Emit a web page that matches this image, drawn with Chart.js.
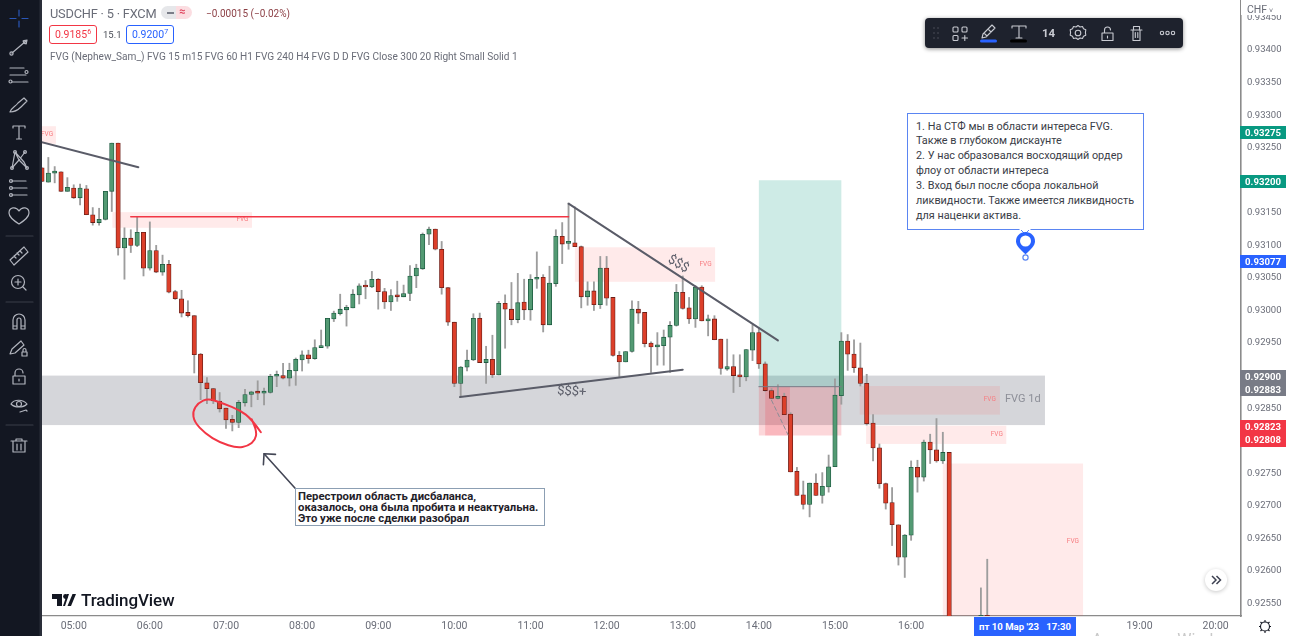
<!DOCTYPE html>
<html>
<head>
<meta charset="utf-8">
<title>USDCHF 5</title>
<script src="https://cdn.jsdelivr.net/npm/chart.js@4"></script>
<style>
  html, body { margin: 0; padding: 0; background: #fff; overflow: hidden; }
  #app { position: relative; width: 1290px; height: 636px; overflow: hidden; font-family: Roboto, sans-serif; }
  #app > * { position: absolute; }
  #chart { left: 0; top: 0; }
  #sidebar { left: 0; top: 0; }
  .legend { color: #6a6d78; white-space: nowrap; }
  .quote { top: 25px; width: 46px; height: 17px; border: 1px solid; border-radius: 3px; background: #fff; font-size: 10.5px; line-height: 17px; text-align: center; }
  .quote sup { font-size: 7px; line-height: 0; }
  .tag { left: 1240px; width: 46px; color: #fff; font-weight: 700; font-size: 9.6px; text-align: center; line-height: 13px; }
  .note { background: #fff; box-sizing: border-box; color: #3a3d47; white-space: nowrap; }
</style>
</head>
<body>
<div id="app">
  <canvas id="chart" width="1290" height="636"></canvas>

  <svg id="sidebar" width="42" height="636" fill="none" stroke="#b2b5be" stroke-width="1.2" stroke-linecap="round" stroke-linejoin="round">
    <rect width="42" height="636" fill="#131722" stroke="none"/>
    <rect x="39.5" width="2.5" height="636" fill="#2a2e39" stroke="none"/>
    <path d="M19 10v6M19 21v6M10 18.5h6M22 18.5h6" stroke="#2a56b8"/>
    <path d="M12 53L26 41M23 41l4-1-1 4"/><circle cx="11.5" cy="53.5" r="1.6"/><circle cx="25" cy="42" r="1.6"/>
    <path d="M10 68h14M10 75h16M12 82h16"/><circle cx="26.5" cy="72" r="1.5"/><circle cx="10.5" cy="81.5" r="1.5"/>
    <path d="M10 112c2-5 5-5 8-9l6-5 3 3-6 6c-3 3-6 5-11 5z"/>
    <path d="M13 126h12v2M13 126v2M19 126v13M16.500 139h5"/>
    <path d="M12 168l3-16 9 10 3 6M15 152l4 8 6-8M12 168l7-8 8 8"/><circle cx="15" cy="152" r="1.4"/><circle cx="25" cy="152" r="1.4"/><circle cx="12" cy="168" r="1.4"/><circle cx="27" cy="168" r="1.4"/>
    <path d="M11 181h15M11 188h16M11 195h16"/><circle cx="11" cy="181" r="1.5"/><circle cx="11" cy="188" r="1.5"/><circle cx="11" cy="195" r="1.5"/>
    <path d="M19 224c-6-4-10-7-10-11 0-6 7-7 10-2 3-5 10-4 10 2 0 4-4 7-10 11z"/>
    <path d="M6 236h27M6 302h27M6 425h27" stroke="#3a3e49"/>
    <path d="M10 260l14-13 4 5-14 13zM14 256l2 2M17 253l2 2M20 251l2 2"/>
    <circle cx="18" cy="282" r="6.500"/><path d="M23 287l3 3M15 282h6M18 279v6"/>
    <path d="M13 329v-9a6 6 0 0 1 12 0v9h-4v-9a2 2 0 0 0-4 0v9zM13 326h4M21 326h4"/>
    <path d="M10 354l2-5 9-8 3 4-9 8zM22 352h5v4h-5zM23 352v-2a1.500 1.500 0 0 1 3 0v2"/>
    <path d="M13 376h12v8H13zM15 376v-3a4 4 0 0 1 8 0M19 379v2"/>
    <path d="M11 404c3-5 12-5 16 0-4 4-12 4-16 0z"/><circle cx="19" cy="404" r="2.500"/><path d="M20 412l6-2 1 1"/>
    <path d="M13 441h12v11H13zM11 441h16M16 441v-2h6v2M17 444v6M21 444v6"/>
  </svg>

  <div class="legend" style="left:50px;top:5px;font-size:12.8px;line-height:17px;letter-spacing:-.2px">USDCHF · 5 · FXCM</div>
  <div style="left:161px;top:6px;width:31px;height:13px;border-radius:7px;background:linear-gradient(90deg,#e6e7ea 50%,#fbdde1 50%)"></div>
  <div style="left:167px;top:11.500px;width:7px;height:2px;background:#7a7d88"></div>
  <div style="left:179px;top:4px;color:#e0455f;font-size:11px;line-height:15px;font-weight:700">≈</div>
  <div style="left:206px;top:7px;color:#8c3f45;font-size:10px;line-height:14px;white-space:nowrap">−0.00015 (−0.02%)</div>
  <div class="quote" style="left:49px;color:#f23645;border-color:#f23645">0.9185<sup>6</sup></div>
  <div style="left:103px;top:29px;font-size:9.5px;line-height:12px;color:#4a4d57">15.1</div>
  <div class="quote" style="left:126px;color:#2962ff;border-color:#2962ff">0.9200<sup>7</sup></div>
  <div class="legend" style="left:50px;top:50px;font-size:10.1px;line-height:14px">FVG (Nephew_Sam_) FVG 15 m15 FVG 60 H1 FVG 240 H4 FVG D D FVG Close 300 20 Right Small Solid 1</div>

  <div style="left:925px;top:18px;width:258px;height:30px;border-radius:4px;background:#1e222d;box-shadow:0 1px 4px rgba(0,0,0,.45)"></div>
  <svg style="left:925px;top:18px" width="258" height="30" fill="none" stroke="#c9cbd2" stroke-width="1.1" stroke-linecap="round" stroke-linejoin="round">
    <path d="M9 10h.01M13 10h.01M9 15h.01M13 15h.01M9 20h.01M13 20h.01" stroke="#50535e" stroke-width="1.6"/>
    <rect x="28" y="9" width="5" height="5" rx="1"/><rect x="37" y="9" width="5" height="5" rx="1"/><rect x="28" y="17.500" width="5" height="5" rx="1"/><path d="M37 20h5.500M39.800 17.500v5"/>
    <path d="M57 20l1-4 9-9 3 3-9 9zM59 15l3 3M63 11l3 3"/><rect x="55" y="21.500" width="17" height="3" rx="1.500" fill="#2962ff" stroke="none"/>
    <path d="M87 8h14v2M87 8v2M94 8v12M91 20h6"/><rect x="85" y="21.500" width="17" height="3" rx="1.500" fill="#000" stroke="none"/>
    <circle cx="153" cy="15" r="2.800"/><path d="M153 7.500l2 1.500 2.500-.5 1 2.300 2.300 1-.4 2.700.4 2.700-2.300 1-1 2.300-2.500-.5-2 1.500-2-1.500-2.500.5-1-2.300-2.300-1 .4-2.700-.4-2.700 2.300-1 1-2.300 2.500.5z"/>
    <path d="M177 15h11v7.500h-11zM179.500 15v-3a3 3 0 0 1 6 0M182.500 18v2"/>
    <path d="M206 12h11M208 12v10.500h7V12M208.500 12V8.500h6V12M210.300 14.500v5M212.800 14.500v5"/>
    <circle cx="237" cy="15" r="1.700"/><circle cx="242.500" cy="15" r="1.700"/><circle cx="248" cy="15" r="1.700"/>
  </svg>
  <div style="left:1042px;top:26px;color:#c9cbd2;font-size:11.5px;line-height:14px;font-weight:700">14</div>

  <div class="note" style="left:907px;top:113px;width:237px;height:117px;border:1px solid #5a85f2;padding:5.500px 8px;font-size:10.85px;line-height:14.900px">1. На СТФ мы в области интереса FVG.<br>Также в глубоком дискаунте<br>2. У нас образовался восходящий ордер<br>флоу от области интереса<br>3. Вход был после сбора локальной<br>ликвидности. Также имеется ликвидность<br>для наценки актива.</div>
  <svg style="left:1010px;top:228px" width="32" height="38">
    <path d="M10.500 1.500h9L15 6z" fill="#fff" stroke="#5a85f2"/><path d="M9.500 1h11v1h-11z" fill="#fff"/>
    <path d="M15.500 4c-5.500 0-9.500 4-9.500 9.200 0 4.300 4 8 9.500 13 5.500-5 9.500-8.700 9.500-13C25 8 21 4 15.500 4z" fill="#2962ff"/>
    <circle cx="15.500" cy="13" r="5.500" fill="#fff"/><circle cx="15.500" cy="29.500" r="2.600" fill="#fff" stroke="#5a85f2" stroke-width="1.200"/>
  </svg>

  <div class="note" style="left:295px;top:488px;width:250px;height:38px;border:1px solid #8c9fb3;padding:1.500px 2px;font-size:11.300px;line-height:11.200px;font-weight:700;color:#1f2129">Перестроил область дисбаланса,<br>оказалось, она была пробита и неактуальна.<br>Это уже после сделки разобрал</div>

  <svg style="left:52px;top:593px" width="24" height="14" fill="#131722">
    <path d="M0 1h10v12H5V6H0zM17 1l-4 12h-2l4-12z"/><path d="M15.500 13L20.500 1H24l-5 12z"/><circle cx="13.500" cy="3.500" r="2.400"/>
  </svg>
  <div style="left:81px;top:589px;font-size:17px;line-height:22px;font-weight:500;color:#131722;letter-spacing:-.1px">TradingView</div>

  <div style="left:1205px;top:569px;width:22px;height:22px;border-radius:50%;background:#fff;box-shadow:0 1px 4px rgba(0,0,0,.22)"></div>
  <svg style="left:1205px;top:569px" width="22" height="22" fill="none" stroke="#3d4151" stroke-width="1.500"><path d="M7 7l4 4-4 4M11.500 7l4 4-4 4"/></svg>

  <div style="left:1241px;top:0;width:49px;height:15px;background:#fff"></div>
  <div style="left:1247px;top:3px;color:#6a6d78;font-size:10.500px;line-height:14px">CHF<span style="font-size:7px"> ˅</span></div>
  <div class="tag" style="top:125.500px;height:13px;background:#089981">0.93275</div>
  <div class="tag" style="top:175px;height:13px;background:#089981">0.93200</div>
  <div class="tag" style="top:255px;height:13px;background:#2962ff">0.93077</div>
  <div class="tag" style="top:370px;height:26px;background:#787b86">0.92900<br>0.92883</div>
  <div class="tag" style="top:420px;height:26.500px;background:#f23645">0.92823<br>0.92808</div>
  <div style="left:974px;top:617px;width:102px;height:19px;background:#2962ff;color:#fff;font-size:9.600px;font-weight:700;line-height:19px;text-align:center;white-space:pre">пт 10 Мар '23   17:30</div>
  <svg style="left:1256px;top:617px" width="18" height="18" fill="none" stroke="#131722" stroke-width="1.100"><circle cx="9" cy="9.500" r="4.500"/><path d="M9 3v2M9 14v2M3 9.500h2M13 9.500h2M4.500 5l1.500 1.500M12 12.500l1.500 1.500M13.500 5L12 6.500M6 12.500L4.500 14"/></svg>
  <div style="left:1092px;top:630px;color:#c9c9c9;font-size:16px;line-height:20px;white-space:nowrap">Активация Windows</div>
</div>

<script>
// OHLC of the 5 minute bars, first bar 04:35, nulls where the bar sits below the visible range
const opens = [
  0.93219, 0.93197, 0.93211, 0.93213, 0.93183,
  0.93188, 0.93173, 0.93187, 0.93147, 0.93135, 0.93140, 0.93183, 0.93257, 0.93096, 0.93111,
  0.93100, 0.93120, 0.93065, 0.93092, 0.93059, 0.93071, 0.93029, 0.93018, 0.92997, 0.92992,
  0.92933, 0.92889, 0.92880, 0.92861, 0.92850, 0.92833, 0.92828, 0.92858, 0.92871, 0.92875,
  0.92873, 0.92874, 0.92899, 0.92900, 0.92896, 0.92907, 0.92924, 0.92932, 0.92926, 0.92943,
  0.92945, 0.92987, 0.92995, 0.93001, 0.93004, 0.93024, 0.93038, 0.93036, 0.93048, 0.93029,
  0.93013, 0.93023, 0.93021, 0.93026, 0.93053, 0.93064, 0.93117, 0.93125, 0.93094, 0.93035,
  0.92982, 0.92888, 0.92913, 0.92924, 0.92988, 0.92920, 0.92925, 0.92901, 0.93011, 0.93002,
  0.92986, 0.93013, 0.93001, 0.93048, 0.93051, 0.92978, 0.93041, 0.93114, 0.93103, 0.93104,
  0.93098, 0.93021, 0.93030, 0.93009, 0.93065, 0.93020, 0.92931, 0.92921, 0.92937, 0.93002,
  0.92997, 0.92950, 0.92944, 0.92946, 0.92959, 0.92977, 0.93028, 0.93004, 0.92987, 0.93036,
  0.92984, 0.92987, 0.92956, 0.92910, 0.92914, 0.92900, 0.92898, 0.92939, 0.92966, 0.92918,
  0.92877, 0.92865, 0.92868, 0.92841, 0.92753, 0.92717, 0.92702, 0.92735, 0.92716, 0.92729,
  0.92760, 0.92869, 0.92953, 0.92933, 0.92912, 0.92888, 0.92827, 0.92789, 0.92734, 0.92705,
  0.92671, 0.92621, 0.92655, 0.92759, 0.92744, 0.92798, 0.92786, 0.92769, 0.92782,
  null, null, null, null, 0.92525, 0.92532
];
const highs = [
  0.93219, 0.93235, 0.93221, 0.93213, 0.93204,
  0.93193, 0.93194, 0.93192, 0.93158, 0.93157, 0.93183, 0.93257, 0.93257, 0.93127, 0.93124,
  0.93144, 0.93120, 0.93136, 0.93100, 0.93085, 0.93077, 0.93031, 0.93031, 0.93015, 0.92992,
  0.92934, 0.92897, 0.92880, 0.92874, 0.92850, 0.92839, 0.92862, 0.92879, 0.92876, 0.92892,
  0.92881, 0.92902, 0.92907, 0.92919, 0.92919, 0.92927, 0.92938, 0.92939, 0.92955, 0.92970,
  0.92988, 0.92999, 0.93025, 0.93008, 0.93032, 0.93041, 0.93046, 0.93060, 0.93049, 0.93034,
  0.93032, 0.93045, 0.93039, 0.93069, 0.93071, 0.93119, 0.93128, 0.93125, 0.93106, 0.93035,
  0.92982, 0.92914, 0.92939, 0.92995, 0.92996, 0.92945, 0.92962, 0.93014, 0.93024, 0.93043,
  0.93057, 0.93048, 0.93055, 0.93090, 0.93055, 0.93068, 0.93124, 0.93135, 0.93165, 0.93159,
  0.93099, 0.93044, 0.93044, 0.93083, 0.93083, 0.93020, 0.92937, 0.92937, 0.93015, 0.93014,
  0.92997, 0.92952, 0.92966, 0.92970, 0.92983, 0.93040, 0.93053, 0.93020, 0.93038, 0.93038,
  0.92993, 0.92992, 0.92956, 0.92956, 0.92932, 0.92932, 0.92940, 0.92978, 0.92973, 0.92921,
  0.92880, 0.92886, 0.92873, 0.92843, 0.92759, 0.92738, 0.92735, 0.92749, 0.92751, 0.92778,
  0.92895, 0.92966, 0.92963, 0.92955, 0.92950, 0.92902, 0.92840, 0.92795, 0.92735, 0.92728,
  0.92671, 0.92656, 0.92769, 0.92770, 0.92801, 0.92810, 0.92834, 0.92813, 0.92782,
  null, null, null, null, 0.92574, 0.92618
];
const lows = [
  0.93198, 0.93197, 0.93196, 0.93183, 0.93183,
  0.93172, 0.93162, 0.93147, 0.93131, 0.93131, 0.93139, 0.93152, 0.93085, 0.93048, 0.93089,
  0.93098, 0.93053, 0.93062, 0.93058, 0.93054, 0.93027, 0.93017, 0.92990, 0.92990, 0.92904,
  0.92863, 0.92857, 0.92857, 0.92844, 0.92819, 0.92815, 0.92820, 0.92853, 0.92852, 0.92863,
  0.92855, 0.92873, 0.92883, 0.92895, 0.92884, 0.92885, 0.92907, 0.92919, 0.92925, 0.92943,
  0.92942, 0.92983, 0.92993, 0.92976, 0.93004, 0.93010, 0.93018, 0.93035, 0.93002, 0.93003,
  0.93000, 0.93014, 0.93021, 0.93015, 0.93035, 0.93063, 0.93101, 0.93093, 0.93025, 0.92977,
  0.92883, 0.92868, 0.92907, 0.92923, 0.92920, 0.92888, 0.92897, 0.92901, 0.92942, 0.92978,
  0.92981, 0.92986, 0.92985, 0.93034, 0.92967, 0.92978, 0.93037, 0.93072, 0.93094, 0.93098,
  0.93004, 0.93008, 0.93000, 0.93003, 0.93008, 0.92930, 0.92898, 0.92921, 0.92936, 0.92980,
  0.92944, 0.92905, 0.92916, 0.92916, 0.92905, 0.92976, 0.93002, 0.92980, 0.92974, 0.92984,
  0.92961, 0.92955, 0.92902, 0.92908, 0.92874, 0.92883, 0.92892, 0.92923, 0.92911, 0.92876,
  0.92864, 0.92864, 0.92840, 0.92752, 0.92716, 0.92695, 0.92683, 0.92716, 0.92704, 0.92721,
  0.92760, 0.92856, 0.92908, 0.92905, 0.92884, 0.92824, 0.92769, 0.92727, 0.92695, 0.92639,
  0.92609, 0.92590, 0.92647, 0.92721, 0.92738, 0.92765, 0.92767, 0.92765, 0.92500,
  null, null, null, null, 0.92520, 0.92520
];
const closes = [
  0.93198, 0.93211, 0.93212, 0.93183, 0.93189,
  0.93173, 0.93188, 0.93147, 0.93135, 0.93140, 0.93183, 0.93257, 0.93096, 0.93111, 0.93100,
  0.93120, 0.93065, 0.93092, 0.93059, 0.93071, 0.93028, 0.93018, 0.92996, 0.92992, 0.92932,
  0.92889, 0.92880, 0.92861, 0.92849, 0.92832, 0.92828, 0.92859, 0.92871, 0.92875, 0.92873,
  0.92875, 0.92899, 0.92900, 0.92896, 0.92908, 0.92925, 0.92932, 0.92926, 0.92943, 0.92946,
  0.92988, 0.92996, 0.93002, 0.93005, 0.93025, 0.93038, 0.93036, 0.93048, 0.93029, 0.93013,
  0.93023, 0.93021, 0.93026, 0.93053, 0.93065, 0.93117, 0.93125, 0.93094, 0.93035, 0.92982,
  0.92888, 0.92913, 0.92924, 0.92988, 0.92920, 0.92925, 0.92901, 0.93011, 0.93002, 0.92986,
  0.93012, 0.93001, 0.93048, 0.93051, 0.92978, 0.93042, 0.93114, 0.93102, 0.93104, 0.93098,
  0.93021, 0.93030, 0.93009, 0.93065, 0.93019, 0.92931, 0.92921, 0.92937, 0.93002, 0.92996,
  0.92949, 0.92944, 0.92947, 0.92959, 0.92977, 0.93028, 0.93003, 0.92987, 0.93036, 0.92984,
  0.92987, 0.92955, 0.92911, 0.92914, 0.92900, 0.92898, 0.92940, 0.92966, 0.92918, 0.92877,
  0.92865, 0.92868, 0.92840, 0.92752, 0.92716, 0.92702, 0.92735, 0.92716, 0.92730, 0.92760,
  0.92870, 0.92953, 0.92933, 0.92912, 0.92888, 0.92826, 0.92789, 0.92734, 0.92704, 0.92671,
  0.92621, 0.92655, 0.92759, 0.92744, 0.92798, 0.92786, 0.92769, 0.92782, 0.92500,
  null, null, null, null, 0.92532, 0.92525
];

const hourTicks = ["05:00", "06:00", "07:00", "08:00", "09:00", "10:00", "11:00", "12:00", "13:00", "14:00", "15:00", "16:00", "17:00", "18:00", "19:00", "20:00"];
const priceTicks = [0.9255, 0.926, 0.9265, 0.927, 0.9275, 0.928, 0.9285, 0.929, 0.9295, 0.93, 0.9305, 0.931, 0.9315, 0.932, 0.9325, 0.933, 0.9335, 0.934, 0.9345];
const priceMin = 0.925308;
const priceMax = 0.934768;

// one slot every 5 minutes, 04:35 to 20:20 and on to the right edge
const barTimes = [];
for (let m = 4 * 60 + 35; barTimes.length < 190; m += 5) {
  barTimes.push(String(Math.floor(m / 60)).padStart(2, "0") + ":" + String(m % 60).padStart(2, "0"));
}

// drawings, given as [first slot, last slot, top price, bottom price]
const greyZone = [0, 158.1, 0.929, 0.92824];
const fvgZones = [
  [-1, 2.2, 0.93283, 0.93256],
  [11.1, 33.1, 0.93151, 0.93127],
  [84, 106.1, 0.93097, 0.93044],
  [128.9, 151, 0.92884, 0.9284],
  [129.9, 152, 0.92823, 0.92795],
  [142, 164.1, 0.92765, 0.92531]
];
const fvgLabels = [[0.8, 0.93271], [31.6, 0.9314], [104.6, 0.93071], [149.4, 0.92864], [150.5, 0.92809], [162.5, 0.92646]];
const targetZone = [113, 126, 0.932, 0.92883];
const stopZones = [[113, 126, 0.92883, 0.92808], [114, 117.9, 0.92883, 0.92808]];

// lines as [slot, price, slot, price]
const trendLines = [
  [-1, 0.93261, 15.18, 0.9322],
  [65.9, 0.92867, 101, 0.92909],
  [83, 0.93164, 116, 0.92954]
];
const liquidityLine = [14, 0.93144, 83, 0.93144];
const entryLine = [113, 0.92883, 126, 0.92883];
const dashedPath = [115, 0.92862, 117.6, 0.92809];
const arrowShaft = [39.9, 0.92727, 35, 0.9278];
const arrowHead = [[34.9, 0.92763], [35, 0.9278], [36.8, 0.92779]];

// hand drawn ring round the swing low
const ringPoints = [
  [34.5, 0.92813], [33.05, 0.92833], [31.2, 0.92847], [28.6, 0.92857], [26.2, 0.92865],
  [24.6, 0.92858], [23.75, 0.92845], [24, 0.92829], [25.7, 0.92811], [28.05, 0.92797],
  [30.7, 0.92789], [32.5, 0.92792], [33.6, 0.92801], [33.85, 0.92814], [33.05, 0.92833]
];

const annotations = {
  id: "annotations",
  beforeDatasetsDraw(chart) {
    const { ctx, chartArea: a } = chart;
    const x = chart.scales.x, y = chart.scales.y;
    const box = (z, color) => {
      ctx.fillStyle = color;
      const left = x.getPixelForValue(z[0]), top = y.getPixelForValue(z[2]);
      ctx.fillRect(left, top, x.getPixelForValue(z[1]) - left, y.getPixelForValue(z[3]) - top);
    };
    ctx.save();
    ctx.beginPath();
    ctx.rect(a.left, a.top, a.right - a.left, a.bottom - a.top);
    ctx.clip();
    box(greyZone, "rgba(120,123,134,0.31)");
    fvgZones.forEach(z => box(z, "rgba(255,82,82,0.12)"));
    box(targetZone, "rgba(8,153,129,0.2)");
    stopZones.forEach(z => box(z, "rgba(242,54,69,0.2)"));

    ctx.font = "6.5px Roboto";
    ctx.fillStyle = "#f77c80";
    ctx.textAlign = "center";
    ctx.textBaseline = "middle";
    fvgLabels.forEach(l => ctx.fillText("FVG", x.getPixelForValue(l[0]), y.getPixelForValue(l[1])));
    ctx.fillStyle = "#8d8f98";
    ctx.font = "11px Roboto";
    ctx.textAlign = "left";
    ctx.fillText("FVG 1d", x.getPixelForValue(151.8), y.getPixelForValue(0.92864));
    ctx.restore();
  },
  afterDatasetsDraw(chart) {
    const { ctx, chartArea: a } = chart;
    const x = chart.scales.x, y = chart.scales.y;
    const line = (l, color, width, dash) => {
      ctx.strokeStyle = color;
      ctx.lineWidth = width;
      ctx.setLineDash(dash || []);
      ctx.beginPath();
      ctx.moveTo(x.getPixelForValue(l[0]), y.getPixelForValue(l[1]));
      ctx.lineTo(x.getPixelForValue(l[2]), y.getPixelForValue(l[3]));
      ctx.stroke();
    };
    ctx.save();
    ctx.beginPath();
    ctx.rect(a.left, a.top, a.right - a.left, a.bottom - a.top);
    ctx.clip();
    ctx.lineCap = "round";
    ctx.lineJoin = "round";
    trendLines.forEach(l => line(l, "#5a5c68", 2));
    line(liquidityLine, "#f23645", 1.6);
    line(entryLine, "#787b86", 1);
    line(dashedPath, "#8a8c96", 1, [4, 3]);
    line(arrowShaft, "#434655", 1.6);

    ctx.setLineDash([]);
    ctx.strokeStyle = "#434655";
    ctx.lineWidth = 1.6;
    ctx.beginPath();
    arrowHead.forEach((p, i) => {
      const px = x.getPixelForValue(p[0]), py = y.getPixelForValue(p[1]);
      if (i === 0) ctx.moveTo(px, py); else ctx.lineTo(px, py);
    });
    ctx.stroke();

    // ring is smoothed through the midpoints of its stroke
    const ring = ringPoints.map(p => [x.getPixelForValue(p[0]), y.getPixelForValue(p[1])]);
    ctx.strokeStyle = "#f23645";
    ctx.lineWidth = 2;
    ctx.beginPath();
    ctx.moveTo(ring[0][0], ring[0][1]);
    for (let i = 1; i < ring.length - 1; i++) {
      ctx.quadraticCurveTo(ring[i][0], ring[i][1], (ring[i][0] + ring[i + 1][0]) / 2, (ring[i][1] + ring[i + 1][1]) / 2);
    }
    ctx.lineTo(ring[ring.length - 1][0], ring[ring.length - 1][1]);
    ctx.stroke();

    ctx.fillStyle = "#5a5c68";
    ctx.textAlign = "center";
    ctx.textBaseline = "middle";
    ctx.font = "13px Roboto";
    ctx.save();
    ctx.translate(x.getPixelForValue(100.3), y.getPixelForValue(0.93071));
    ctx.rotate(0.52);
    ctx.fillText("$$$", 0, 0);
    ctx.restore();
    ctx.save();
    ctx.translate(x.getPixelForValue(83.5), y.getPixelForValue(0.92875));
    ctx.rotate(0.06);
    ctx.fillText("$$$+", 0, 0);
    ctx.restore();
    ctx.restore();
  }
};

const green = "#539a73", red = "#dc3f2a";
const isUp = i => closes[i] >= opens[i];

// axes keep their fixed strip sizes, no extra room for the outer labels
const fixPadding = s => {
  s.paddingTop = 0;
  s.paddingBottom = 0;
  s.paddingLeft = 0;
  s.paddingRight = 0;
};

new Chart(document.getElementById("chart"), {
  type: "bar",
  data: {
    labels: barTimes,
    datasets: [
      {
        data: highs.map((h, i) => (h === null ? null : [lows[i], h])),
        grouped: false,
        order: 2,
        barThickness: 1.2,
        backgroundColor: "#9d9d9d"
      },
      {
        data: opens.map((o, i) => (o === null ? null : [o, closes[i]])),
        grouped: false,
        order: 1,
        barThickness: 4.4,
        minBarLength: 2,
        borderWidth: 0.8,
        borderSkipped: false,
        backgroundColor: c => (isUp(c.dataIndex) ? green : red),
        borderColor: c => (isUp(c.dataIndex) ? "#1d5a40" : "#6b1f18")
      }
    ]
  },
  plugins: [annotations],
  options: {
    responsive: false,
    animation: false,
    layout: { padding: { left: 42, top: 0, right: 0, bottom: 0 } },
    plugins: { legend: { display: false }, tooltip: { enabled: false } },
    scales: {
      x: {
        type: "category",
        offset: false,
        grid: { display: false, drawTicks: false },
        border: { color: "#8b8b8b", width: 1.2 },
        afterFit: s => { s.height = 20; fixPadding(s); },
        ticks: {
          autoSkip: false,
          maxRotation: 0,
          padding: 4,
          color: "#6a6d78",
          font: { family: "Roboto", size: 10.5 },
          callback(v) {
            const t = this.getLabelForValue(v);
            return hourTicks.includes(t) ? t : "";
          }
        }
      },
      y: {
        position: "right",
        min: priceMin,
        max: priceMax,
        grid: { display: false, drawTicks: false },
        border: { color: "#8b8b8b", width: 1.6 },
        afterFit: s => { s.width = 49; fixPadding(s); },
        afterBuildTicks: s => { s.ticks = priceTicks.map(v => ({ value: v })); },
        ticks: {
          padding: 6,
          color: "#6a6d78",
          font: { family: "Roboto", size: 9.5 },
          callback: v => v.toFixed(5)
        }
      }
    }
  }
});
</script>
</body>
</html>
